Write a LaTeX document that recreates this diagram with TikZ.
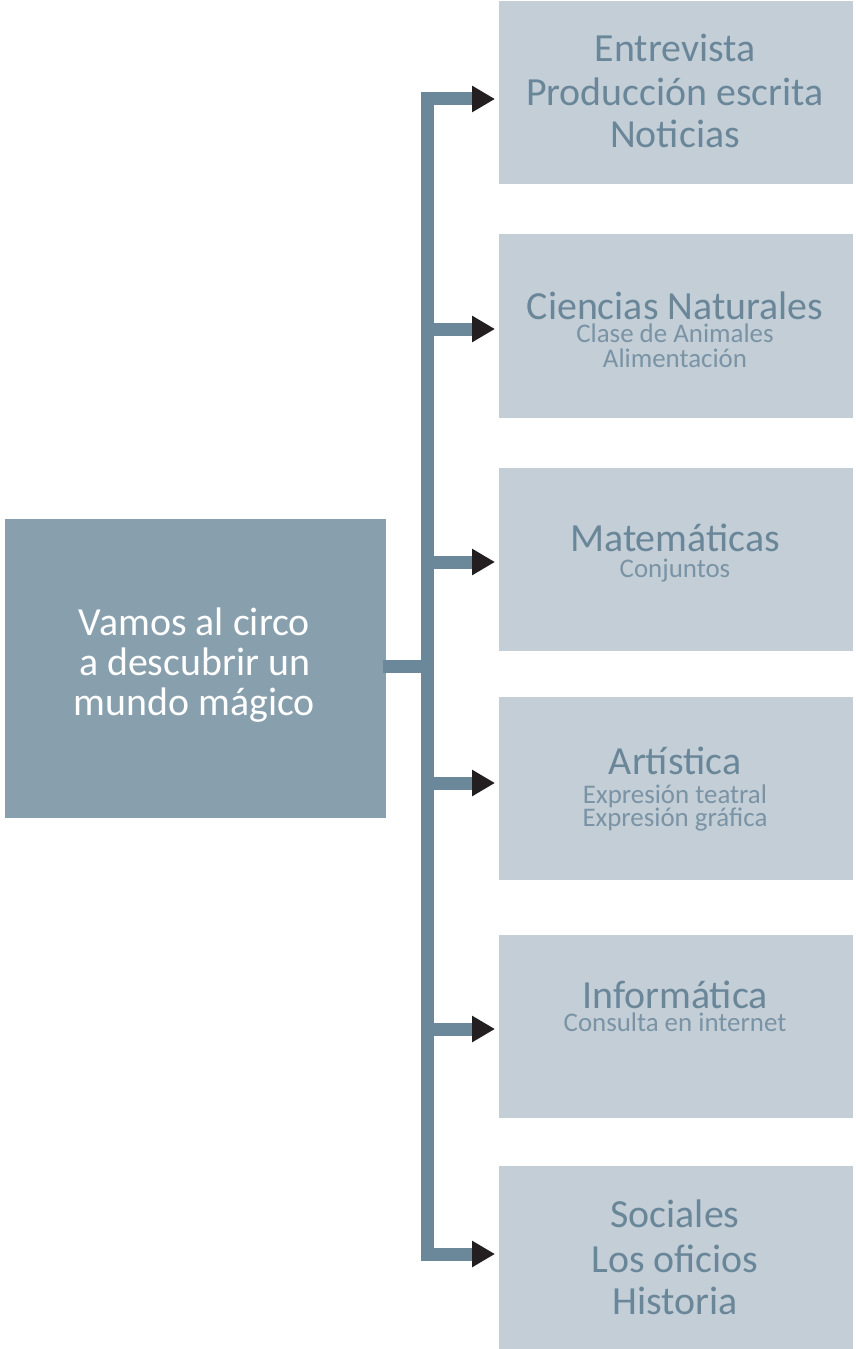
\documentclass[tikz,border=0pt]{standalone}
\usepackage{fontspec}
\setmainfont{Carlito}
\usetikzlibrary{arrows.meta}
\definecolor{mainfill}{HTML}{889FAE}
\definecolor{boxfill}{HTML}{C3CED7}
\definecolor{linecol}{HTML}{6B889B}
\definecolor{bigtext}{HTML}{6A8699}
\definecolor{smalltext}{HTML}{7A93A5}
\definecolor{tipcol}{HTML}{231F20}
\tikzset{
  rbox/.style={fill=boxfill, draw=none, minimum width=354bp, minimum height=183bp, inner sep=0pt, outer sep=0pt},
  mbox/.style={fill=mainfill, draw=none, minimum width=381bp, minimum height=299bp, inner sep=0pt, outer sep=0pt},
  bigtxt/.style={anchor=base, inner sep=0pt, text=bigtext, font=\fontsize{40}{43}\selectfont},
  smalltxt/.style={anchor=base, inner sep=0pt, text=smalltext, font=\fontsize{27}{29}\selectfont},
  maintxt/.style={anchor=base, inner sep=0pt, text=white, font=\fontsize{40}{43}\selectfont},
  conn/.style={draw=linecol, line width=13bp},
  branch/.style={draw=linecol, line width=13bp, shorten >=4bp, -{Triangle[length=23bp, width=25bp, color=tipcol]}},
}
\begin{document}
\begin{tikzpicture}[x=1bp, y=-1bp]
\useasboundingbox (0,0) rectangle (855,1349);
\fill[fill=white] (0,0) rectangle (855,1349);
% boxes
\node[mbox] (main) at (195.5,668) {};
\node[rbox] (b1) at (676,92.5) {};
\node[rbox] (b2) at (676,326) {};
\node[rbox] (b3) at (676,559) {};
\node[rbox] (b4) at (676,788.5) {};
\node[rbox] (b5) at (676,1026.5) {};
\node[rbox] (b6) at (676,1257) {};
% junction coordinates
\coordinate (j0) at (427.5,666);
\coordinate (j1) at (427.5,99);
\coordinate (j2) at (427.5,329);
\coordinate (j3) at (427.5,562);
\coordinate (j4) at (427.5,783);
\coordinate (j5) at (427.5,1029);
\coordinate (j6) at (427.5,1254);
% connectors
\draw[conn, line cap=rect] (j1) -- (j6);
\draw[conn] ([xshift=-3bp]main.east |- j0) -- (j0);
\draw[branch] (j1) -- (j1 -| b1.west);
\draw[branch] (j2) -- (j2 -| b2.west);
\draw[branch] (j3) -- (j3 -| b3.west);
\draw[branch] (j4) -- (j4 -| b4.west);
\draw[branch] (j5) -- (j5 -| b5.west);
\draw[branch] (j6) -- (j6 -| b6.west);
% main text
\node[maintxt] (m1) at (194.5,635) {Vamos al circo};
\node[maintxt] (m2) at (194.5,675) {a descubrir un};
\node[maintxt] (m3) at (194.5,715) {mundo mágico};
% box 1
\node[bigtxt] (t11) at (675,62) {Entrevista};
\node[bigtxt] (t12) at (675,106) {Producción escrita};
\node[bigtxt] (t13) at (675,148) {Noticias};
% box 2
\node[bigtxt] (t21) at (675,319) {Ciencias Naturales};
\node[smalltxt] (t22) at (675,342) {Clase de Animales};
\node[smalltxt] (t23) at (675,367) {Alimentación};
% box 3
\node[bigtxt] (t31) at (675,551) {Matemáticas};
\node[smalltxt] (t32) at (675,577) {Conjuntos};
% box 4
\node[bigtxt] (t41) at (675,774) {Artística};
\node[smalltxt] (t42) at (675,803) {Expresión teatral};
\node[smalltxt] (t43) at (675,826) {Expresión gráfica};
% box 5
\node[bigtxt] (t51) at (675,1008) {Informática};
\node[smalltxt] (t52) at (675,1031) {Consulta en internet};
% box 6
\node[bigtxt] (t61) at (675,1227) {Sociales};
\node[bigtxt] (t62) at (675,1272) {Los oficios};
\node[bigtxt] (t63) at (675,1314) {Historia};
\end{tikzpicture}
\end{document}
